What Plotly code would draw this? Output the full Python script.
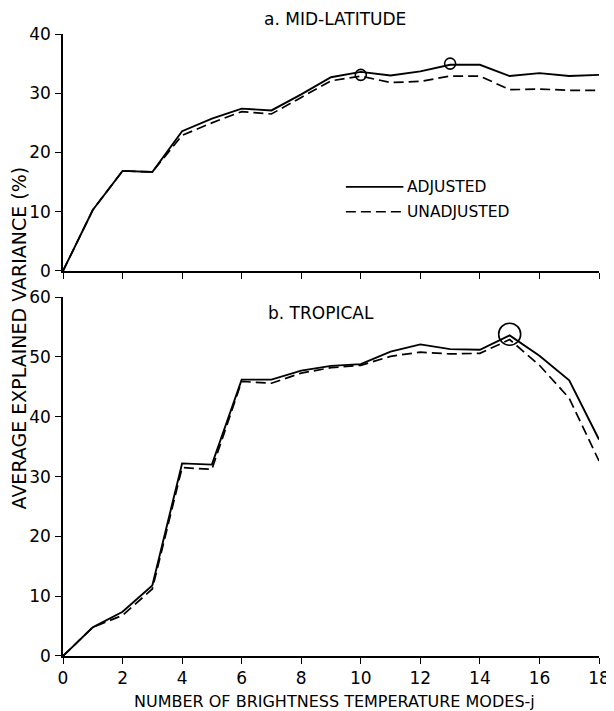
import plotly.graph_objects as go

modes = list(range(19))
mid_adjusted = [0, 10.3, 16.9, 16.7, 23.6, 25.7, 27.4, 27.1, 29.8, 32.7, 33.6, 33.0, 33.7, 34.8, 34.8, 32.9, 33.4, 32.9, 33.1]
mid_unadjusted = [0, 10.3, 16.9, 16.7, 22.9, 25.0, 26.9, 26.5, 29.3, 32.1, 32.9, 31.8, 32.0, 32.9, 32.9, 30.6, 30.7, 30.5, 30.5]
mid_circles_x = [10, 13]
mid_circles_y = [33.1, 35.0]

trop_adjusted = [0, 4.8, 7.4, 11.8, 32.2, 32.0, 46.2, 46.2, 47.7, 48.5, 48.8, 50.9, 52.1, 51.3, 51.2, 53.6, 50.2, 46.1, 36.2]
trop_unadjusted = [0, 4.8, 6.8, 11.2, 31.5, 31.2, 45.9, 45.6, 47.3, 48.2, 48.6, 50.1, 50.8, 50.5, 50.6, 52.9, 48.6, 43.1, 32.6]
trop_circles_x = [15]
trop_circles_y = [53.8]

x_ticks = list(range(0, 19, 2))
x_tick_labels = [str(v) for v in x_ticks]
mid_y_ticks = [0, 10, 20, 30, 40]
trop_y_ticks = [0, 10, 20, 30, 40, 50, 60]

legend_labels = ["ADJUSTED", "UNADJUSTED"]
legend_x = [9.5, 11.43]
legend_y = [14.2, 10.0]

FONT = "DejaVu Sans"
fig = go.Figure()

line_solid = dict(color="black", width=1.9)
line_dash = dict(color="black", width=1.7, dash="10px,5px")

fig.add_trace(go.Scatter(x=modes, y=mid_adjusted, mode="lines", line=line_solid,
                         xaxis="x", yaxis="y", showlegend=False))
fig.add_trace(go.Scatter(x=modes, y=mid_unadjusted, mode="lines", line=line_dash,
                         xaxis="x", yaxis="y", showlegend=False))
fig.add_trace(go.Scatter(x=mid_circles_x, y=mid_circles_y, mode="markers",
                         marker=dict(symbol="circle-open", size=11, color="black", line=dict(width=1.6)),
                         xaxis="x", yaxis="y", showlegend=False))

fig.add_trace(go.Scatter(x=modes, y=trop_adjusted, mode="lines", line=line_solid,
                         xaxis="x2", yaxis="y2", showlegend=False))
fig.add_trace(go.Scatter(x=modes, y=trop_unadjusted, mode="lines", line=line_dash,
                         xaxis="x2", yaxis="y2", showlegend=False))
fig.add_trace(go.Scatter(x=trop_circles_x, y=trop_circles_y, mode="markers",
                         marker=dict(symbol="circle-open", size=22, color="black", line=dict(width=1.6)),
                         xaxis="x2", yaxis="y2", showlegend=False))

# legend (short sample lines in the top panel)
fig.add_trace(go.Scatter(x=legend_x, y=[legend_y[0]] * 2, mode="lines", line=line_solid,
                         xaxis="x", yaxis="y", showlegend=False, hoverinfo="skip"))
fig.add_trace(go.Scatter(x=legend_x, y=[legend_y[1]] * 2, mode="lines", line=line_dash,
                         xaxis="x", yaxis="y", showlegend=False, hoverinfo="skip"))

tickfont = dict(family=FONT, size=17, color="black")
axis_common = dict(showline=True, linecolor="black", linewidth=1.5, ticks="outside",
                   ticklen=6, tickwidth=1.3, tickcolor="black", showgrid=False,
                   zeroline=False, tickfont=tickfont, ticklabeloverflow="allow")

# page is offset by the 8px body margin; positions below are page pixels
PL, PB = 63, 656          # page x of plot left, page y of plot bottom
plot_w = 614 - 55 - 18
plot_h = 711 - 26 - 63


def px(x):
    return (x - PL) / plot_w


def py(y):
    return (PB - y) / plot_h


tfont = dict(family=FONT, size=17, color="black")
lfont = dict(family=FONT, size=15.5, color="black")

fig.update_layout(
    width=614, height=711,
    margin=dict(l=55, r=18, t=26, b=63),
    plot_bgcolor="white", paper_bgcolor="white",
    xaxis=dict(domain=[0, 1], range=[0, 18], anchor="y", tickvals=x_ticks,
               showticklabels=False, **axis_common),
    yaxis=dict(domain=[0.619, 1], range=[0, 40], anchor="x", tickvals=mid_y_ticks,
               ticklabelstandoff=1, **axis_common),
    xaxis2=dict(domain=[0, 1], range=[0, 18], anchor="y2", tickvals=x_ticks,
                ticktext=x_tick_labels, **axis_common),
    yaxis2=dict(domain=[0, 0.577], range=[0, 60], anchor="x2", tickvals=trop_y_ticks,
                ticklabelstandoff=1, **axis_common),
    annotations=[
        dict(text="a. MID-LATITUDE", x=px(338), y=py(19), xref="paper", yref="paper",
             xanchor="center", yanchor="middle", showarrow=False, font=tfont),
        dict(text="b. TROPICAL", x=px(323), y=py(313), xref="paper", yref="paper",
             xanchor="center", yanchor="middle", showarrow=False, font=tfont),
        dict(text=legend_labels[0], x=11.5, y=legend_y[0], xref="x", yref="y", xanchor="left",
             showarrow=False, font=lfont),
        dict(text=legend_labels[1], x=11.5, y=legend_y[1], xref="x", yref="y", xanchor="left",
             showarrow=False, font=lfont),
        dict(text="NUMBER OF BRIGHTNESS TEMPERATURE MODES-j", x=px(337), y=py(701),
             xref="paper", yref="paper", xanchor="center", yanchor="middle",
             showarrow=False, font=dict(family=FONT, size=16, color="black")),
        dict(text="AVERAGE EXPLAINED VARIANCE (%)", x=px(19), y=py(338),
             xref="paper", yref="paper", xanchor="center", yanchor="middle",
             textangle=-90, showarrow=False, font=dict(family=FONT, size=19, color="black")),
    ],
)

fig.write_html("out.html")
